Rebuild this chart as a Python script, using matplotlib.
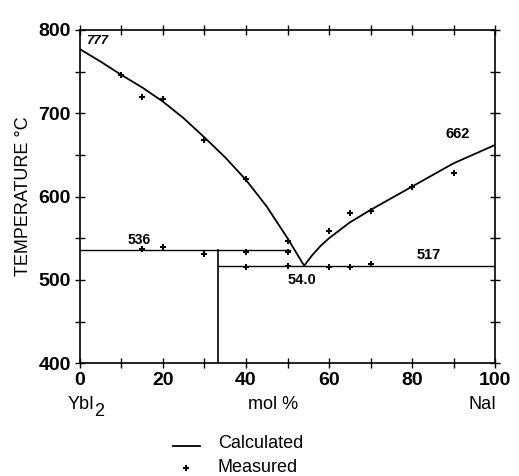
import matplotlib.pyplot as plt
import numpy as np

plt.rcParams["font.family"] = ["Liberation Sans", "DejaVu Sans"]

# calculated liquidus, YbI2 side and NaI side
liq_left_x = [0, 5, 10, 15, 20, 25, 30, 35, 40, 45, 50, 54]
liq_left_t = [777, 762, 746, 731, 714, 694, 671, 647, 620, 588, 550, 517]
liq_right_x = [54, 56, 58, 60, 65, 70, 75, 80, 85, 90, 95, 100]
liq_right_t = [517, 530, 541, 550, 569, 584, 598, 612, 626, 640, 651, 662]

# invariant lines
peritectic_t = 536
peritectic_x = [0, 50.7]
eutectic_t = 517
eutectic_x = [33.3, 100]
compound_x = 33.3

# measured points
meas_x = [10, 15, 20, 30, 40, 50, 50, 15, 20, 30, 40, 40, 50, 60, 65, 70, 80, 90, 60, 65, 70]
meas_t = [746, 720, 717, 668, 621, 547, 533, 537, 539, 531, 533, 516, 517, 559, 580, 583, 612, 628, 515, 516, 519]

fig = plt.figure(figsize=(5.19, 4.76), dpi=100)
ax = fig.add_axes([0.154, 0.237, 0.8, 0.7])

lw = 1.3
ax.plot(liq_left_x, liq_left_t, color="black", lw=lw)
ax.plot(liq_right_x, liq_right_t, color="black", lw=lw)
ax.plot(peritectic_x, [peritectic_t, peritectic_t], color="black", lw=1.0)
ax.plot(eutectic_x, [eutectic_t, eutectic_t], color="black", lw=1.0)
ax.plot([compound_x, compound_x], [400, peritectic_t], color="black", lw=1.2)
ax.plot(meas_x, meas_t, "P", color="black", ms=4, mew=0, ls="none")

ax.set_xlim(0, 100)
ax.set_ylim(400, 800)
ax.set_xticks(np.arange(0, 101, 20))
ax.set_xticks(np.arange(0, 101, 10), minor=True)
ax.set_yticks(np.arange(400, 801, 100))
ax.set_yticks(np.arange(400, 801, 50), minor=True)
ax.tick_params(which="both", direction="inout", length=7, width=1.0,
               top=True, right=True, labelsize=14, pad=3)
for lab in ax.get_xticklabels() + ax.get_yticklabels():
    lab.set_weight("bold")
for s in ax.spines.values():
    s.set_linewidth(1.2)

ax.set_ylabel("TEMPERATURE °C", fontsize=13, labelpad=5)

ax.text(1.5, 780, "777", fontsize=9.5, style="italic", va="bottom", weight="bold")
ax.text(11.5, 540, "536", fontsize=10, va="bottom", weight="bold")
ax.text(53.5, 508, "54.0", fontsize=10.5, ha="center", va="top", weight="bold")
ax.text(81, 522, "517", fontsize=10.5, ha="left", va="bottom", weight="bold")
ax.text(88, 667, "662", fontsize=10.5, ha="left", va="bottom", weight="bold")

# YbI2 with a full-size lowered "2", as in the original
fig.text(0.131, 0.151, "YbI", fontsize=13, ha="left", va="center")
fig.text(0.182, 0.135, "2", fontsize=13, ha="left", va="center")
fig.text(0.526, 0.151, "mol %", fontsize=13, ha="center", va="center")
fig.text(0.957, 0.151, "NaI", fontsize=13, ha="right", va="center")

fig.lines.append(plt.Line2D([0.333, 0.385], [0.064, 0.064], color="black", lw=1.3,
                            transform=fig.transFigure))
fig.text(0.42, 0.069, "Calculated", fontsize=13, va="center")
fig.lines.append(plt.Line2D([0.358], [0.016], marker="P", color="black", ms=4, mew=0,
                            transform=fig.transFigure))
fig.text(0.42, 0.018, "Measured", fontsize=13, va="center")

fig.savefig("out.png", dpi=100)
